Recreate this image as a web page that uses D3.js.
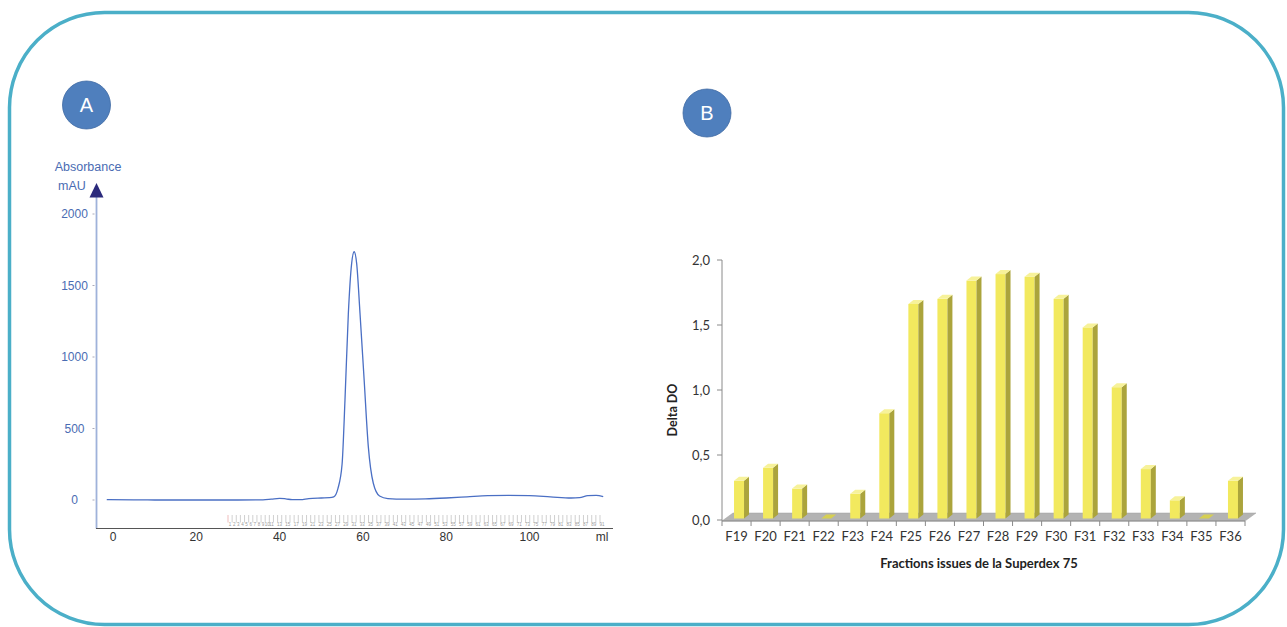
<!DOCTYPE html>
<html><head><meta charset="utf-8">
<script src="https://cdn.jsdelivr.net/npm/d3@7"></script>
<style>body{margin:0;background:#fff}svg{display:block}</style>
</head><body>
<svg id="c" width="1287" height="627"></svg>
<script>
// ---------- DATA ----------
// Panel A: chromatogram (ml, mAU)
const chromVolume = [-1.5, 5, 10, 20, 30, 36, 38, 40, 41.5, 43, 45, 47, 50, 52, 53, 54, 55, 55.7, 56.5, 57.3, 57.9, 58.5, 59.3, 60.3, 61.3, 62.5, 64, 66, 70, 75, 80, 85, 90, 95, 100, 105, 110, 112, 114, 116, 117.7];
const chromAbs    = [2, 1, 0, 0, 0, 1, 6, 12, 8, 2, 3, 10, 14, 16, 22, 80, 250, 700, 1300, 1655, 1736, 1655, 1308, 839, 373, 117, 28, 10, 6, 8, 14, 22, 30, 32, 30, 22, 14, 16, 30, 33, 24];
const absTicks = [0, 500, 1000, 1500, 2000];
const mlTicks = [0, 20, 40, 60, 80, 100];
const fractionNumbers = d3.range(1, 92);
// Panel B: bars
const fractions = ["F19","F20","F21","F22","F23","F24","F25","F26","F27","F28","F29","F30","F31","F32","F33","F34","F35","F36"];
const deltaDO   = [0.29, 0.39, 0.23, 0, 0.19, 0.81, 1.65, 1.69, 1.83, 1.88, 1.86, 1.69, 1.47, 1.01, 0.38, 0.14, 0, 0.29];
const doTicks = [0, 0.5, 1.0, 1.5, 2.0];

// ---------- DRAW ----------
const svg = d3.select("#c");
svg.append("rect").attr("x",9.5).attr("y",12.5).attr("width",1274).attr("height",612)
  .attr("rx",95).attr("ry",95).attr("fill","none").attr("stroke","#4bafc8").attr("stroke-width",3.5);

function badge(cx, cy, t){
  svg.append("circle").attr("cx",cx).attr("cy",cy).attr("r",24).attr("fill","#4f7fbd")
    .attr("stroke","#3f6aa3").attr("stroke-width",0.8);
  svg.append("text").attr("x",cx).attr("y",cy+7).attr("text-anchor","middle")
    .attr("font-family","Liberation Sans, Arial").attr("font-size",20).attr("fill","#fff").text(t);
}
badge(86.5,105,"A");
badge(707,113,"B");

// ----- Panel A -----
const A = svg.append("g");
const xA = d3.scaleLinear().domain([0,100]).range([113,529.5]);
const yA = d3.scaleLinear().domain([0,2000]).range([500,214]);
const blue = "#4a6cb3";
A.append("line").attr("x1",96.5).attr("x2",96.5).attr("y1",196).attr("y2",528.5)
  .attr("stroke","#9fb2da").attr("stroke-width",1.8);
A.append("path").attr("d","M96.5,183 L103.5,197.5 L89.5,197.5 Z").attr("fill","#2b2a7c");
A.append("line").attr("x1",96).attr("x2",613).attr("y1",528.5).attr("y2",528.5)
  .attr("stroke","#555").attr("stroke-width",1.2);
A.append("text").attr("x",88).attr("y",171).attr("text-anchor","middle")
  .attr("font-family","Liberation Sans, Arial").attr("font-size",12.5).attr("fill",blue).text("Absorbance");
A.append("text").attr("x",72).attr("y",190).attr("text-anchor","middle")
  .attr("font-family","Liberation Sans, Arial").attr("font-size",12.5).attr("fill",blue).text("mAU");
const yAxA = A.append("g");
absTicks.forEach(v=>{
  yAxA.append("line").attr("x1",92.5).attr("x2",94.5).attr("y1",yA(v)).attr("y2",yA(v)).attr("stroke","#aab").attr("stroke-width",1);
  yAxA.append("text").attr("x",74.5).attr("y",yA(v)+4).attr("text-anchor","middle")
    .attr("font-family","Liberation Sans, Arial").attr("font-size",12).attr("fill",blue).text(v);
});
mlTicks.forEach(v=>{
  A.append("text").attr("x",xA(v)).attr("y",541).attr("text-anchor","middle")
    .attr("font-family","Liberation Sans, Arial").attr("font-size",12).attr("fill","#333").text(v);
});
A.append("text").attr("x",602).attr("y",541).attr("text-anchor","middle")
  .attr("font-family","Liberation Sans, Arial").attr("font-size",12).attr("fill","#333").text("ml");
// fraction marks
const fr = d3.scaleLinear().domain([1,91]).range([230,602]);
fractionNumbers.forEach(n=>{
  const x = fr(n) - 2;
  A.append("line").attr("x1",x).attr("x2",x).attr("y1",515).attr("y2",522.5)
    .attr("stroke", n===1 ? "#e8a0a0" : "#bbb").attr("stroke-width",0.7);
  if (n<=10 || n%2===1) {
    A.append("text").attr("x",fr(n)).attr("y",526).attr("text-anchor","middle")
      .attr("font-family","Liberation Sans, Arial").attr("font-size",4.5).attr("fill","#999").text(n);
  }
});
const lineA = d3.line().x(d=>xA(d[0])).y(d=>yA(d[1])).curve(d3.curveMonotoneX);
A.append("path").datum(d3.zip(chromVolume, chromAbs)).attr("d",lineA)
  .attr("fill","none").attr("stroke","#4a6fc4").attr("stroke-width",1.3);

// ----- Panel B -----
const B = svg.append("g");
const xB = d3.scaleBand().domain(fractions).range([722,1245]);
const yB = d3.scaleLinear().domain([0,2]).range([520,260]);
const font = "Lato, 'Open Sans', sans-serif";
// floor
B.append("path").attr("d","M722,521 L1245,521 L1256,513 L733,513 Z").attr("fill","#b3b3b3").attr("stroke","#a0a0a0").attr("stroke-width",0.5);
B.append("line").attr("x1",722).attr("x2",722).attr("y1",260).attr("y2",521).attr("stroke","#8a8a8a").attr("stroke-width",1);
B.append("line").attr("x1",722).attr("x2",1245).attr("y1",521).attr("y2",521).attr("stroke","#8a8a8a").attr("stroke-width",1);
doTicks.forEach(v=>{
  B.append("line").attr("x1",717).attr("x2",722).attr("y1",yB(v)).attr("y2",yB(v)).attr("stroke","#8a8a8a");
  B.append("text").attr("x",710).attr("y",yB(v)+4.5).attr("text-anchor","end")
    .attr("font-family",font).attr("font-size",13).attr("fill","#333").text(d3.format(".1f")(v).replace(".",","));
});
fractions.forEach((f,i)=>{
  const x = xB(f)+xB.bandwidth();
  B.append("line").attr("x1",x).attr("x2",x).attr("y1",521).attr("y2",526).attr("stroke","#8a8a8a");
  B.append("text").attr("x",xB(f)+xB.bandwidth()/2).attr("y",541).attr("text-anchor","middle")
    .attr("font-family",font).attr("font-size",13).attr("fill","#333").text(f);
});
B.append("line").attr("x1",722).attr("x2",722).attr("y1",521).attr("y2",526).attr("stroke","#8a8a8a");
const base = 518.5, w = 10, dx = 5, dy = 4;
fractions.forEach((f,i)=>{
  const v = deltaDO[i];
  const x0 = xB(f)+xB.bandwidth()/2 - 2.5;
  const top = yB(v) - 1.5;
  if (v > 0) {
    B.append("rect").attr("x",x0).attr("y",top).attr("width",w).attr("height",base-top).attr("fill","#f2e95e");
    B.append("path").attr("d",`M${x0+w},${base} L${x0+w+dx},${base-dy} L${x0+w+dx},${top-dy} L${x0+w},${top} Z`).attr("fill","#aba43c");
  }
  B.append("path").attr("d",`M${x0},${top} L${x0+dx},${top-dy} L${x0+w+dx},${top-dy} L${x0+w},${top} Z`).attr("fill", v>0 ? "#f7f29a" : "#d6cf52");
});
B.append("text").attr("transform","translate(677,410) rotate(-90)").attr("text-anchor","middle")
  .attr("font-family",font).attr("font-weight","bold").attr("font-size",12.5).attr("fill","#222").text("Delta DO");
B.append("text").attr("x",979).attr("y",568).attr("text-anchor","middle")
  .attr("font-family",font).attr("font-weight","bold").attr("font-size",13).attr("fill","#222").text("Fractions issues de la Superdex 75");
</script>
</body></html>
